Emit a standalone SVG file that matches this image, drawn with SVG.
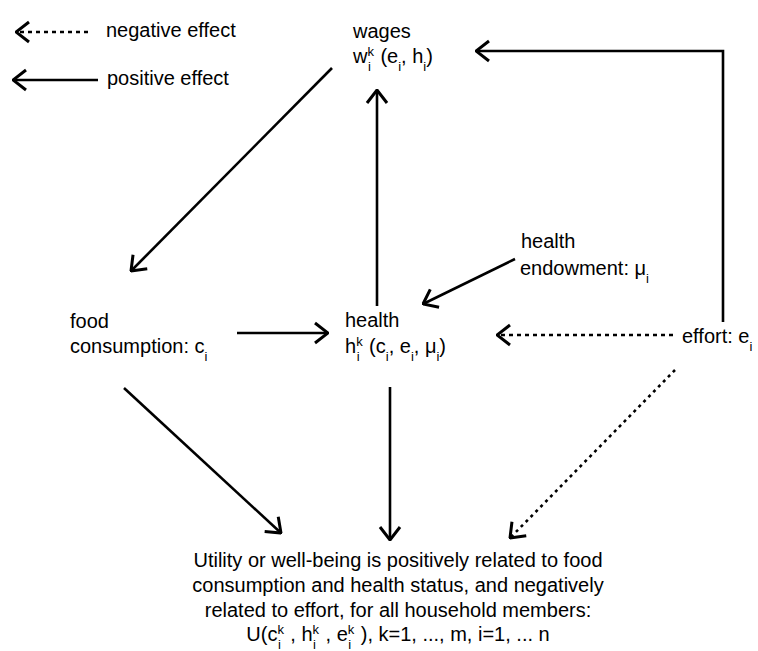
<svg xmlns="http://www.w3.org/2000/svg" width="758" height="651" viewBox="0 0 758 651">
<style>
text{font-family:"Liberation Sans",Arial,sans-serif;font-size:20px;fill:#000}
.s{font-size:13px}
.c{stroke:#000;stroke-width:2.6;fill:none}
.d{stroke-dasharray:4 4}
.o{stroke-dasharray:3 4}
</style>
<defs>
<marker id="ah" viewBox="0 0 16 24" refX="15" refY="12" markerWidth="16" markerHeight="24" markerUnits="userSpaceOnUse" orient="auto">
<path d="M2,2 L15,12 L2,22" fill="none" stroke="#000" stroke-width="3"/>
</marker>
</defs>
<rect width="758" height="651" fill="#fff"/>
<g id="legend">
<line class="c d" x1="88" y1="32" x2="16" y2="32" marker-end="url(#ah)"/>
<text x="106" y="37">negative effect</text>
<line class="c" x1="98" y1="80" x2="13" y2="80" marker-end="url(#ah)"/>
<text x="107" y="85">positive effect</text>
</g>
<g id="connectors">
<polyline class="c" points="723,322 723,51 476,51" marker-end="url(#ah)"/>
<line class="c" x1="332" y1="68" x2="131" y2="271" marker-end="url(#ah)"/>
<line class="c" x1="377" y1="306" x2="377" y2="90" marker-end="url(#ah)"/>
<line class="c" x1="237" y1="333" x2="328" y2="333" marker-end="url(#ah)"/>
<line class="c" x1="515" y1="259" x2="423" y2="304" marker-end="url(#ah)"/>
<line class="c d" x1="673" y1="335" x2="497" y2="335" marker-end="url(#ah)"/>
<line class="c" x1="124" y1="388" x2="281" y2="533" marker-end="url(#ah)"/>
<line class="c" x1="390" y1="387" x2="390" y2="540" marker-end="url(#ah)"/>
<line class="c o" x1="675" y1="370" x2="510" y2="538" marker-end="url(#ah)"/>
</g>
<g id="wages">
<text x="353" y="38">wages</text>
<text x="353" y="63">w<tspan class="s" baseline-shift="super">k</tspan><tspan class="s" dx="-6" baseline-shift="sub">i</tspan><tspan dx="4"> (e</tspan><tspan class="s" baseline-shift="sub">i</tspan>, h<tspan class="s" baseline-shift="sub">i</tspan>)</text>
</g>
<g id="food">
<text x="70" y="328">food</text>
<text x="70" y="353">consumption: c<tspan class="s" baseline-shift="sub">i</tspan></text>
</g>
<g id="health">
<text x="345" y="327">health</text>
<text x="345" y="353">h<tspan class="s" baseline-shift="super">k</tspan><tspan class="s" dx="-6" baseline-shift="sub">i</tspan><tspan dx="4"> (c</tspan><tspan class="s" baseline-shift="sub">i</tspan>, e<tspan class="s" baseline-shift="sub">i</tspan>, μ<tspan class="s" baseline-shift="sub">i</tspan>)</text>
</g>
<g id="endowment">
<text x="521" y="248">health</text>
<text x="520" y="275">endowment: μ<tspan class="s" baseline-shift="sub">i</tspan></text>
</g>
<g id="effort">
<text x="682" y="343">effort: e<tspan class="s" baseline-shift="sub">i</tspan></text>
</g>
<g id="utility">
<text x="398" y="567" text-anchor="middle">Utility or well-being is positively related to food</text>
<text x="398" y="592" text-anchor="middle">consumption and health status, and negatively</text>
<text x="398" y="617" text-anchor="middle">related to effort, for all household members:</text>
<text x="398" y="641" text-anchor="middle">U(c<tspan class="s" baseline-shift="super">k</tspan><tspan class="s" dx="-6" baseline-shift="sub">i</tspan><tspan dx="4"> , h</tspan><tspan class="s" baseline-shift="super">k</tspan><tspan class="s" dx="-6" baseline-shift="sub">i</tspan><tspan dx="4"> , e</tspan><tspan class="s" baseline-shift="super">k</tspan><tspan class="s" dx="-6" baseline-shift="sub">i</tspan><tspan dx="4"> ), k=1, ..., m, i=1, ... n</tspan></text>
</g>
</svg>
